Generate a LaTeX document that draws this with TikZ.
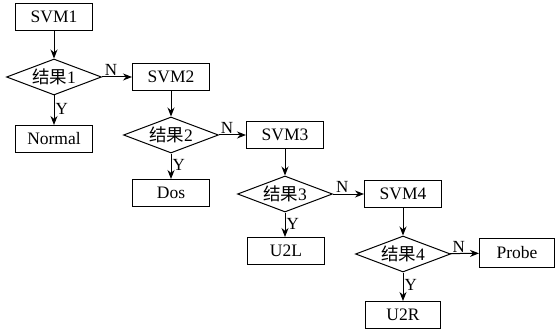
\documentclass[tikz,border=0pt]{standalone}
\usepackage{fontspec}
\setmainfont{Liberation Serif}
\newfontfamily\cjk{Noto Sans CJK SC}
\usetikzlibrary{shapes.geometric,arrows.meta}
\begin{document}
\begin{tikzpicture}[x=1pt,y=-1pt,
  every node/.style={font=\fontsize{17.5}{20}\selectfont},
  box/.style={draw,line width=1pt,minimum width=77pt,minimum height=27pt,inner sep=0pt},
  dec/.style={draw,line width=1pt,diamond,aspect=2.6,inner sep=0pt,minimum width=95pt,minimum height=36pt},
  arr/.style={draw,line width=1pt,-{Stealth[length=9pt,width=7pt]}},
  lab/.style={inner sep=1pt,font=\fontsize{17}{19}\selectfont}]
\useasboundingbox (0,0) rectangle (556,331);
\node[box] (s1) at (54,17) {SVM1};
\node[dec] (d1) at (54,77) {{\cjk 结果}1};
\node[box] (r1) at (54,139) {Normal};
\node[box] (s2) at (171,77) {SVM2};
\node[dec] (d2) at (171,135) {{\cjk 结果}2};
\node[box] (r2) at (171,193) {Dos};
\node[box] (s3) at (285,135) {SVM3};
\node[dec] (d3) at (285,194) {{\cjk 结果}3};
\node[box] (r3) at (286,251) {U2L};
\node[box] (s4) at (403,194) {SVM4};
\node[dec] (d4) at (403,254) {{\cjk 结果}4};
\node[box,minimum width=75pt] (r4) at (403,315) {U2R};
\node[box,minimum width=75pt,minimum height=29pt] (p) at (517,253) {Probe};
\foreach \s/\d/\r/\n in {s1/d1/r1/s2,s2/d2/r2/s3,s3/d3/r3/s4}{
  \path[arr] (\s) -- (\d);
  \path[arr] (\d) -- node[lab,right,pos=0.45] {Y} (\d.south |- \r.north);
  \path[arr] (\d) -- node[lab,above,pos=0.3] {N} (\n);
}
\path[arr] (s4) -- (d4);
\path[arr] (d4) -- node[lab,right,pos=0.45] {Y} (r4);
\path[arr] (d4) -- node[lab,above,pos=0.3] {N} (p);
\end{tikzpicture}
\end{document}
